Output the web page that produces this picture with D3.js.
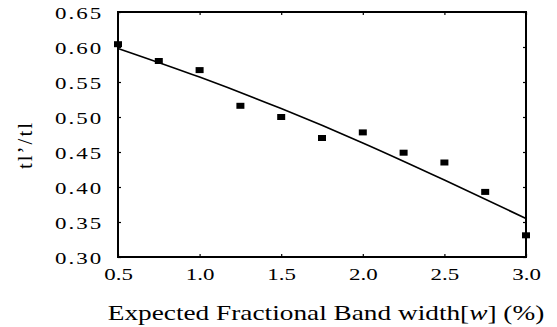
<!DOCTYPE html>
<html>
<head>
<meta charset="utf-8">
<script src="https://cdn.jsdelivr.net/npm/d3@7"></script>
<style>
  html, body { margin: 0; padding: 0; background: #fff; }
  svg { display: block; }
  text { font-family: "Liberation Serif", "Times New Roman", serif; fill: #000; }
</style>
</head>
<body>
<div id="chart"></div>
<script>
// measured points (ratio vs. expected fractional bandwidth)
const bandwidth = [0.5, 0.75, 1.0, 1.25, 1.5, 1.75, 2.0, 2.25, 2.5, 2.75, 3.0];
const ratio = [0.604, 0.580, 0.567, 0.516, 0.500, 0.470, 0.478, 0.449, 0.435, 0.393, 0.331];

// fitted trend line
const fitX = [0.5, 1.0, 1.5, 2.0, 2.5, 3.0];
const fitY = [0.598, 0.557, 0.512, 0.463, 0.410, 0.355];

const xTicks = [0.5, 1.0, 1.5, 2.0, 2.5, 3.0];
const yTicks = [0.30, 0.35, 0.40, 0.45, 0.50, 0.55, 0.60, 0.65];

const width = 557, height = 327;
const plotLeft = 118, plotRight = 526, plotTop = 12, plotBottom = 257;
const stretch = 1.35; // glyphs in the source are wide

const svg = d3.select("#chart").append("svg")
  .attr("width", width)
  .attr("height", height);

const x = d3.scaleLinear().domain([0.5, 3.0]).range([plotLeft, plotRight]);
const y = d3.scaleLinear().domain([0.30, 0.65]).range([plotBottom, plotTop]);

// axes, ticks point inward
const xAxis = svg.append("g")
  .attr("transform", `translate(0,${plotBottom})`)
  .call(d3.axisBottom(x).tickValues(xTicks).tickSize(-3).tickPadding(12)
    .tickFormat(d3.format(".1f")));

const yAxis = svg.append("g")
  .attr("transform", `translate(${plotLeft},0)`)
  .call(d3.axisLeft(y).tickValues(yTicks).tickSize(-3).tickPadding(11)
    .tickFormat(d3.format(".2f")));

svg.append("g")
  .attr("transform", `translate(0,${plotTop})`)
  .call(d3.axisTop(x).tickValues(xTicks).tickSize(-3).tickFormat(""));

svg.append("g")
  .attr("transform", `translate(${plotRight},0)`)
  .call(d3.axisRight(y).tickValues(yTicks).tickSize(-3).tickFormat(""));

svg.selectAll(".domain").remove();
svg.selectAll(".tick line").attr("stroke", "#000").attr("stroke-width", 1.2);

xAxis.selectAll("text")
  .attr("font-size", 17)
  .attr("font-family", "Liberation Serif, serif")
  .attr("fill", "#000")
  .attr("dy", "0.62em")
  .attr("transform", `scale(${stretch},1)`);

yAxis.selectAll("text")
  .attr("font-size", 17)
  .attr("font-family", "Liberation Serif, serif")
  .attr("fill", "#000")
  .attr("letter-spacing", 1.5)
  .attr("dy", "0.38em")
  .attr("transform", `scale(${stretch},1)`);

// frame
svg.append("rect")
  .attr("x", plotLeft)
  .attr("y", plotTop)
  .attr("width", plotRight - plotLeft)
  .attr("height", plotBottom - plotTop)
  .attr("fill", "none")
  .attr("stroke", "#000")
  .attr("stroke-width", 2);

// fit line
const line = d3.line()
  .x(d => x(d[0]))
  .y(d => y(d[1]))
  .curve(d3.curveMonotoneX);

svg.append("path")
  .datum(d3.zip(fitX, fitY))
  .attr("d", line)
  .attr("fill", "none")
  .attr("stroke", "#000")
  .attr("stroke-width", 1.6);

// square markers
svg.selectAll(".pt")
  .data(d3.zip(bandwidth, ratio))
  .enter()
  .append("rect")
  .attr("class", "pt")
  .attr("x", d => x(d[0]) - 4)
  .attr("y", d => y(d[1]) - 3)
  .attr("width", 8)
  .attr("height", 6)
  .attr("fill", "#000");

// axis titles
const xTitle = svg.append("text")
  .attr("transform", `translate(326,320) scale(${stretch - 0.05},1)`)
  .attr("text-anchor", "middle")
  .attr("font-size", 21);
xTitle.append("tspan").text("Expected Fractional Band width[");
xTitle.append("tspan").attr("font-style", "italic").text("w");
xTitle.append("tspan").text("] (%)");

svg.append("text")
  .attr("transform", "translate(32,145) rotate(-90)")
  .attr("text-anchor", "middle")
  .attr("font-size", 21)
  .attr("letter-spacing", 2)
  .text("tl\u2019/tl");
</script>
</body>
</html>
